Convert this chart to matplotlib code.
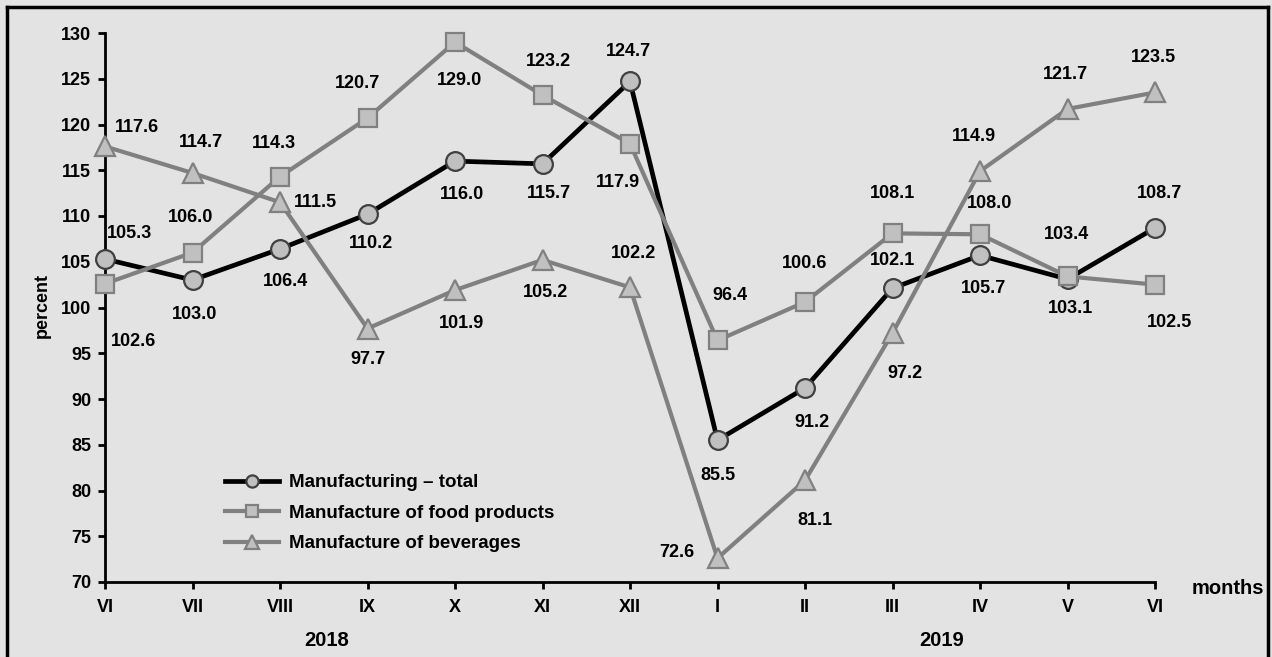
import matplotlib
matplotlib.use("Agg")
import matplotlib.pyplot as plt
from matplotlib.lines import Line2D

plt.rcParams['font.family'] = ['Liberation Sans', 'DejaVu Sans']
plt.rcParams['font.weight'] = 'bold'

months = ["VI", "VII", "VIII", "IX", "X", "XI", "XII", "I", "II", "III", "IV", "V", "VI"]
years = ["2018", "2019"]
total = [105.3, 103.0, 106.4, 110.2, 116.0, 115.7, 124.7, 85.5, 91.2, 102.1, 105.7, 103.1, 108.7]
food = [102.6, 106.0, 114.3, 120.7, 129.0, 123.2, 117.9, 96.4, 100.6, 108.1, 108.0, 103.4, 102.5]
beverages = [117.6, 114.7, 111.5, 97.7, 101.9, 105.2, 102.2, 72.6, 81.1, 97.2, 114.9, 121.7, 123.5]
names = ["Manufacturing \u2013 total", "Manufacture of food products", "Manufacture of beverages"]

# label offsets from the point in pixels (dx, dy), dy positive = up
off_total = [(25, 26), (2, -34), (6, -33), (4, -29), (7, -33), (6, -30), (-2, 30),
             (0, -35), (7, -34), (0, 28), (4, -33), (3, -29), (4, 34)]
off_food = [(28, -58), (-2, 35), (-6, 33), (-10, 35), (5, -38), (6, 34), (-12, -39),
            (12, 45), (0, 39), (0, 40), (10, 31), (-1, 42), (15, -38)]
off_bev = [(32, 19), (8, 30), (35, 0), (0, -31), (6, -33), (3, -33), (3, 34),
           (-41, 6), (10, -40), (12, -40), (-6, 35), (-2, 34), (-2, 35)]

W, H = 1272, 657
bg = "#e3e3e3"
fig = plt.figure(figsize=(W / 100, H / 100), dpi=100, facecolor=bg)
ax = fig.add_axes([105/W, 1 - 582/H, 1050/W, 549/H])
ax.set_facecolor(bg)

x = list(range(len(months)))
ax.plot(x, total, color="black", lw=3.4, marker="o", ms=13.5, mfc="#c0c0c0",
        mec="#404040", mew=1.6, label=names[0], zorder=3, clip_on=False)
ax.plot(x, food, color="#808080", lw=3.0, marker="s", ms=13.5, mfc="#c0c0c0",
        mec="#808080", mew=1.6, label=names[1], zorder=3, clip_on=False)
ax.plot(x, beverages, color="#808080", lw=3.0, marker="^", ms=14.5, mfc="#c0c0c0",
        mec="#808080", mew=1.6, label=names[2], zorder=3, clip_on=False)

for vals, offs in ((total, off_total), (food, off_food), (beverages, off_bev)):
    for i, (v, (dx, dy)) in enumerate(zip(vals, offs)):
        ax.annotate(f"{v:.1f}", (i, v), xytext=(dx * 0.72, dy * 0.72),
                    textcoords="offset points", ha="center", va="center",
                    fontsize=13, fontweight="bold", zorder=5)

ax.set_xlim(0, 12)
ax.set_ylim(70, 130)
ax.set_yticks(range(70, 131, 5))
ax.set_xticks(x)
ax.set_xticklabels(months)
ax.tick_params(axis="both", labelsize=13, width=2, length=5, color="black")
ax.tick_params(axis="x", pad=7)
ax.tick_params(axis="y", pad=5)
for s in ("top", "right"):
    ax.spines[s].set_visible(False)
for s in ("left", "bottom"):
    ax.spines[s].set_linewidth(2)

fig.text(42/W, 1 - 305/H, "percent", rotation=90, fontsize=13, fontweight="bold",
         ha="center", va="center")
fig.text(1228/W, 1 - 589/H, "months", fontsize=14.5, fontweight="bold",
         ha="center", va="center")
for yr, px in zip(years, (327, 942)):
    fig.text(px/W, 1 - 641/H, yr, fontsize=14.5, fontweight="bold",
             ha="center", va="center")

ax.legend(loc="upper left", bbox_to_anchor=(225/W, 1 - 474/H),
          bbox_transform=fig.transFigure, frameon=False, fontsize=13.5,
          borderpad=0, borderaxespad=0, handlelength=2.9, handletextpad=0.5,
          labelspacing=0.72, markerscale=0.65)

# border around figure (top, left, right)
for xs, ys in (([7/W, 1268/W], [1 - 7/H] * 2),
               ([7/W] * 2, [0, 1 - 7/H]),
               ([1268/W] * 2, [0, 1 - 7/H])):
    fig.add_artist(Line2D(xs, ys, color="black", lw=2.5))

fig.savefig("out.png", dpi=100, facecolor=bg)
